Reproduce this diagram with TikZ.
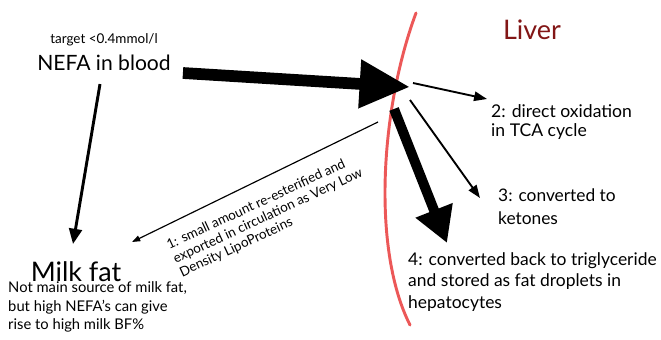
\documentclass[tikz,border=0pt]{standalone}
\usepackage{fontspec}
\setmainfont{Lato}
\usetikzlibrary{arrows.meta,positioning}
\definecolor{liverred}{RGB}{130,22,22}
\definecolor{edgered}{RGB}{236,88,88}

\begin{document}
\begin{tikzpicture}[x=0.03cm,y=-0.03cm,
    txt/.style={inner sep=0pt,align=left},
    bigarrow/.style={line width=10pt,-{Triangle[length=43pt,width=39pt]}},
    midarrow/.style={line width=8.5pt,-{Triangle[length=30pt,width=32pt]}},
    thinarrow/.style={line width=1.6pt,-{Triangle[length=11pt,width=8pt]}},
    downarrow/.style={line width=2.5pt,-{Triangle[length=13pt,width=11pt]}},
    faintarrow/.style={line width=1pt,-{Triangle[length=7pt,width=5pt]}}
]
\useasboundingbox (0,0) rectangle (661,340);

\node[txt,font=\fontsize{11.5}{13}\selectfont] (target) at (104,40) {target <0.4mmol/l};
\node[txt,font=\fontsize{18}{20}\selectfont] (nefa) at (104,63) {NEFA in blood};
\node[txt,text=liverred,font=\fontsize{23}{25}\selectfont] (liver) at (532,30) {Liver};
\node[txt,anchor=west,font=\fontsize{15}{17}\selectfont] (oxid) at (491,122) {2: direct oxidation\\in TCA cycle};
\node[txt,anchor=west,font=\fontsize{14.8}{19.5}\selectfont] (keto) at (498,207) {3: converted to\\ketones};
\node[txt,anchor=west,font=\fontsize{14.9}{18.3}\selectfont] (trig) at (408,282) {4: converted back to triglyceride\\and stored as fat droplets in\\hepatocytes};
\node[txt,font=\fontsize{23}{26}\selectfont] (milk) at (76,272) {Milk fat};
\node[txt,anchor=west,font=\fontsize{12.6}{16}\selectfont] (milknote) at (8,307) {Not main source of milk fat,\\but high NEFA's can give\\rise to high milk BF\%};
\node[txt,anchor=west,rotate=25,font=\fontsize{11.5}{13}\selectfont] (vldl) at (174,260) {1: small amount re-esterified and\\exported in circulation as Very Low\\Density LipoProteins};

\coordinate (entry) at (410,87);
\coordinate (hub) at (400,100);
\coordinate (oxidtip) at (487,99);
\coordinate (ketotip) at (480,198);
\coordinate (trigtip) at (447,243);
\coordinate (vldltip) at (132,242);
\coordinate (milktip) at (73,244);

\draw[edgered,line width=2.5pt,line cap=round] (416,13) .. controls (380,110) and (372,250) .. (410,325);

\draw[bigarrow] ([shift={(12,10)}]nefa.east) -- (entry);
\draw[thinarrow] ([shift={(13,-17)}]hub) -- (oxidtip);
\draw[thinarrow] ([shift={(10,0)}]hub) -- (ketotip);
\draw[midarrow] ([shift={(-6,9)}]hub) -- (trigtip);
\draw[faintarrow] ([shift={(-22,22)}]hub) -- (vldltip);
\draw[downarrow] ([shift={(-4,13)}]nefa.south) -- (milktip);
\end{tikzpicture}
\end{document}
